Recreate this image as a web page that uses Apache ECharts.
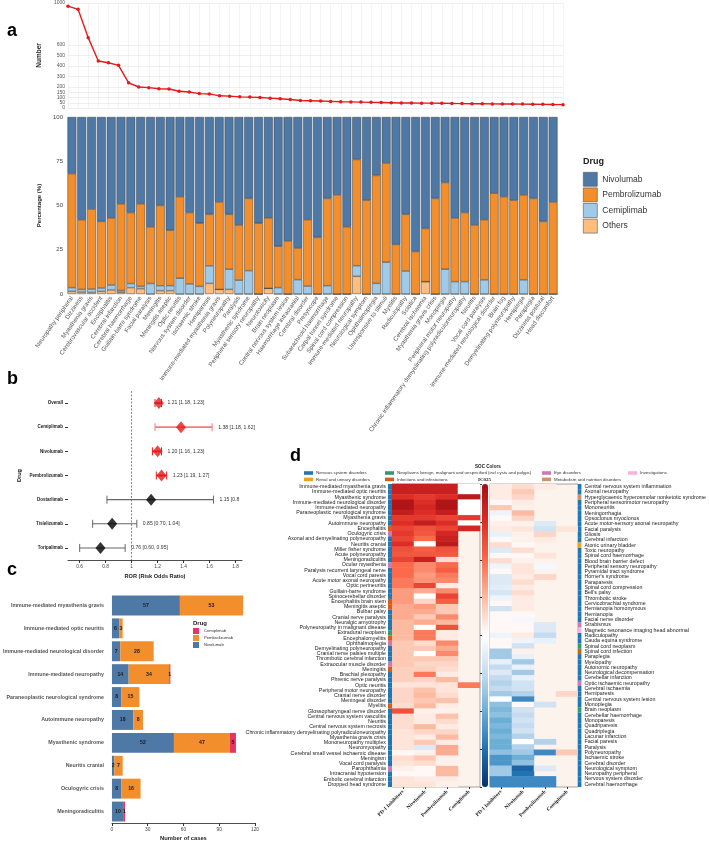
<!DOCTYPE html>
<html>
<head>
<meta charset="utf-8">
<script src="https://cdn.jsdelivr.net/npm/echarts@6/dist/echarts.min.js"></script>
<style>
html, body { margin: 0; padding: 0; background: #fff; }
#chart { width: 709px; height: 842px; }
</style>
</head>
<body>
<div id="chart"></div>
<script>
// ---- panel a: counts and drug share per AE ----
var aCats = ['Neuropathy peripheral', 'Dizziness', 'Myasthenia gravis', 'Cerebrovascular accident', 'Encephalitis', 'Cerebral infarction', 'Cerebral haemorrhage', 'Guillain-barre syndrome', 'Facial paralysis', 'Meningitis', 'Meningitis aseptic', 'Optic neuritis', 'Nervous system disorder', 'Ischaemic stroke', 'Hemiparesis', 'Immune-mediated myasthenia gravis', 'Polyneuropathy', 'Paralysis', 'Myasthenic syndrome', 'Peripheral sensory neuropathy', 'Neurotoxicity', 'Brain neoplasm', 'Central nervous system lesion', 'Haemorrhage intracranial', 'Cerebral disorder', 'Presyncope', 'Subarachnoid haemorrhage', 'Carpal tunnel syndrome', 'Spinal cord compression', 'Immune-mediated neuropathy', 'Neurological symptom', 'Ophthalmoplegia', 'Unresponsive to stimuli', 'Myelitis', 'Radiculopathy', 'Sciatica', 'Cerebral ischaemia', 'Myasthenia gravis crisis', 'Monoplegia', 'Peripheral motor neuropathy', 'Chronic inflammatory demyelinating polyradiculoneuropathy', 'Neuritis', 'Vocal cord paralysis', 'Immune-mediated neurological disorder', 'Brain fog', 'Demyelinating polyneuropathy', 'Hemiplegia', 'Paraplegia', 'Dizziness postural', 'Head discomfort'];
var aCounts = [970, 940, 670, 447, 431, 406, 240, 200, 194, 184, 181, 159, 153, 137, 134, 116, 113, 106, 104, 100, 94, 88, 81, 72, 69, 66, 63, 60, 58, 56, 54, 52, 50, 48, 47, 46, 46, 45, 44, 42, 41, 40, 39, 38, 38, 37, 36, 35, 33, 32];
var aTicks = [0, 50, 100, 150, 200, 300, 400, 500, 600, 1000];
var aOthers = [1.5, 1.1, 0.9, 1.5, 2.3, 1, 3.6, 3, 0, 1.9, 1.9, 0, 0, 0, 6, 2.6, 2.6, 0, 0, 0, 3.2, 0, 0, 0, 0, 0, 0, 0, 0, 10, 0, 0, 0, 0, 0, 0, 7, 0, 0, 0, 0, 0, 0, 0, 0, 0, 0, 0, 0, 0];
var aCemi = [2.1, 1.5, 1.9, 1.9, 2.8, 1, 2.3, 1.3, 5.9, 2.8, 2.8, 8.9, 5.7, 4.3, 9.9, 0, 11.4, 7.8, 13.2, 0, 0, 3.6, 0, 8.1, 4.5, 0, 4.7, 0, 0, 6, 0, 6, 18, 0, 13, 0, 0, 0, 14, 7, 7, 0, 8, 0, 0, 0, 8, 0, 0, 0];
var aPembro = [64.4, 39.4, 45.2, 37.6, 37.9, 49, 40.1, 46.7, 32.1, 45.3, 31.3, 46.1, 40.3, 35.7, 29.1, 49.4, 31, 31.2, 40.8, 40, 39.8, 23.4, 30, 17.9, 37.5, 32, 49.3, 56, 38, 60, 53, 61, 56, 28, 32, 24, 30, 54, 49, 36, 39, 39, 34, 57, 55, 53, 48, 54, 41, 52];
var aNivo = [32, 58, 52, 59, 57, 49, 54, 49, 62, 50, 64, 45, 54, 60, 55, 48, 55, 61, 46, 60, 57, 73, 70, 74, 58, 68, 46, 44, 62, 24, 47, 33, 26, 72, 55, 76, 63, 46, 37, 57, 54, 61, 58, 43, 45, 47, 44, 46, 59, 48];

// ---- panel b: ROR forest ----
var bDrugs = ['Overall', 'Cemiplimab', 'Nivolumab', 'Pembrolizumab', 'Dostarlimab', 'Tislelizumab', 'Toripalimab'];
var bRor = [1.21, 1.38, 1.20, 1.23, 1.15, 0.85, 0.76];
var bLow = [1.18, 1.18, 1.16, 1.19, 0.81, 0.70, 0.60];
var bHigh = [1.23, 1.62, 1.23, 1.27, 1.63, 1.04, 0.95];
var bText = ['1.21 [1.18, 1.23]', '1.38 [1.18, 1.62]', '1.20 [1.16, 1.23]', '1.23 [1.19, 1.27]', '1.15 [0.8', '0.85 [0.70, 1.04]', '0.76 [0.60, 0.95]'];
var bSig = [1, 1, 1, 1, 0, 0, 0];

// ---- panel c: immune-mediated cases ----
var cCats = ['Immune-mediated myasthenia gravis', 'Immune-mediated optic neuritis', 'Immune-mediated neurological disorder', 'Immune-mediated neuropathy', 'Paraneoplastic neurological syndrome', 'Autoimmune neuropathy', 'Myasthenic syndrome', 'Neuritis cranial', 'Oculogyric crisis', 'Meningoradiculitis'];
var cNivo = [57, 6, 7, 14, 8, 18, 52, 2, 8, 10];
var cPembro = [53, 3, 28, 34, 15, 8, 47, 7, 16, 0];
var cCemi = [0, 0, 0, 1, 0, 0, 5, 0, 0, 1];

// ---- panel d: IC025 heatmaps ----
var dCols = ['PD-1 Inhibitors', 'Nivolumab', 'Pembrolizumab', 'Cemiplimab'];
var socNames = ['Nervous system disorders', 'Renal and urinary disorders', 'Neoplasms benign, malignant and unspecified (incl cysts and polyps)', 'Infections and infestations', 'Eye disorders', 'Metabolism and nutrition disorders', 'Investigations'];
var socColors = ['#1f77b4', '#e6a324', '#2a9d72', '#d2601a', '#cc79b4', '#c8946a', '#f5b5dc'];

var dLeftRows = ['Immune-mediated myasthenia gravis', 'Immune-mediated optic neuritis', 'Myasthenic syndrome', 'Immune-mediated neurological disorder', 'Immune-mediated neuropathy', 'Paraneoplastic neurological syndrome', 'Myasthenia gravis', 'Autoimmune neuropathy', 'Encephalitis', 'Oculogyric crisis', 'Axonal and demyelinating polyneuropathy', 'Neuritis cranial', 'Miller fisher syndrome', 'Acute polyneuropathy', 'Meningoradiculitis', 'Ocular myasthenia', 'Paralysis recurrent laryngeal nerve', 'Vocal cord paresis', 'Acute motor axonal neuropathy', 'Optic perineuritis', 'Guillain-barre syndrome', 'Spinocerebellar disorder', 'Encephalitis brain stem', 'Meningitis aseptic', 'Bulbar palsy', 'Cranial nerve paralysis', 'Neuralgic amyotrophy', 'Polyneuropathy in malignant disease', 'Extradural neoplasm', 'Encephalomyelitis', 'Ophthalmoplegia', 'Demyelinating polyneuropathy', 'Cranial nerve palsies multiple', 'Thrombotic cerebral infarction', 'Extraocular muscle disorder', 'Meningitis', 'Brachial plexopathy', 'Phrenic nerve paralysis', 'Optic neuritis', 'Peripheral motor neuropathy', 'Cranial nerve disorder', 'Meningeal disorder', 'Myelitis', 'Glossopharyngeal nerve disorder', 'Central nervous system vasculitis', 'Neuritis', 'Central nervous system necrosis', 'Chronic inflammatory demyelinating polyradiculoneuropathy', 'Myasthenia gravis crisis', 'Mononeuropathy multiplex', 'Neuromyopathy', 'Cerebral small vessel ischaemic disease', 'Meningism', 'Vocal cord paralysis', 'Parophthalmia', 'Intracranial hypotension', 'Embolic cerebral infarction', 'Dropped head syndrome'];
var dLeftSoc = [0, 0, 0, 0, 0, 0, 0, 0, 3, 4, 0, 0, 0, 0, 0, 4, 0, 0, 0, 0, 0, 0, 3, 3, 0, 0, 0, 0, 2, 3, 4, 0, 0, 0, 4, 3, 0, 0, 0, 0, 0, 0, 3, 0, 0, 0, 0, 0, 0, 0, 0, 0, 0, 0, 4, 0, 0, 0];
var dLeftPD1 = [3.4, 3.4, 3.0, 3.8, 3.8, 3.5, 2.8, 3.0, 2.6, 2.8, 2.6, 3.0, 2.4, 2.3, 2.6, 2.0, 2.0, 2.0, 1.8, 1.8, 1.4, 1.4, 1.4, 1.2, 1.2, 1.2, 1.0, 1.0, 1.0, 1.0, 0.8, 0.8, 0.8, 0.8, 0.8, 0.7, 0.7, 0.7, 0.4, 0.6, 0.6, 0.6, 0.5, 2.4, 0.5, 0.5, 0.5, 0.4, 0.4, 0.4, 0.4, 0.1, 0.5, 0.4, 0.2, 0.1, 0.4, 0.4];
var dLeftNivo = [3.4, 3.4, 2.8, 3.0, 3.2, 3.0, 2.8, 3.5, 2.4, 2.3, 2.0, 0, 2.2, 2.3, 3.4, 1.6, 1.6, 1.4, 1.5, 2.6, 1.2, 0, 0.6, 1.4, 1.2, 0.8, 1.2, 0, 1.8, 1.8, 0.5, 0.8, 0, 0.8, 0.6, 0.7, 1.8, 0.6, 0.4, 0.9, 1.0, 0.8, 1.0, 0.2, 0.3, 0.3, 1.0, 0.6, 0.3, 0.8, -0.6, 0.2, 0.8, 0.5, 0.1, 0.1, 0.3, 0.4];
var dLeftPembro = [3.4, 3.4, 3.0, 3.8, 3.8, 3.5, 2.6, 3.0, 2.6, 3.2, 3.4, 3.6, 2.4, 2.3, 0.5, 2.0, 2.2, 1.8, 1.6, 0.3, 1.6, 2.6, 2.2, 0.8, 0.8, 1.6, 1.0, 2.4, 0.3, 0.3, 1.6, 1.2, 1.6, 0.8, 0.6, 0.5, 0.3, 1.0, 0.4, 0.4, 0.5, 0.9, 0.3, 0.2, 0.9, 0.5, 0.3, 0.6, 1.0, 0.3, 1.2, 1.2, 0.2, 0.2, 1.0, 1.0, 0.3, 0.2];
var dLeftCemi = [0, 0, 3.6, 0, 0, 0, 2.8, 0, 3.2, null, null, null, null, null, null, null, null, null, null, null, null, null, null, null, null, null, null, null, null, null, null, null, null, null, null, null, null, null, 1.8, null, null, null, null, null, null, null, null, null, null, null, null, null, null, null, null, null, null, null];

var dRightRows = ['Central nervous system inflammation', 'Axonal neuropathy', 'Hyperglycaemic hyperosmolar nonketotic syndrome', 'Peripheral sensorimotor neuropathy', 'Mononeuritis', 'Meningorrhagia', 'Opsoclonus myoclonus', 'Acute motor-sensory axonal neuropathy', 'Facial paralysis', 'Gliosis', 'Cerebral infarction', 'Atonic urinary bladder', 'Toxic neuropathy', 'Spinal cord haemorrhage', 'Blood brain barrier defect', 'Peripheral sensory neuropathy', 'Pyramidal tract syndrome', "Horner's syndrome", 'Paraparesis', 'Spinal cord compression', "Bell's palsy", 'Thrombotic stroke', 'Cervicobrachial syndrome', 'Hemianopia homonymous', 'Hemianopia', 'Facial nerve disorder', 'Strabismus', 'Magnetic resonance imaging head abnormal', 'Radiculopathy', 'Cauda equina syndrome', 'Spinal cord neoplasm', 'Spinal cord infection', 'Paraplegia', 'Myelopathy', 'Autonomic neuropathy', 'Neurological decompensation', 'Cerebellar infarction', 'Optic ischaemic neuropathy', 'Cerebral ischaemia', 'Hemiparesis', 'Central nervous system lesion', 'Monoplegia', 'Brain neoplasm', 'Cerebellar haemorrhage', 'Monoparesis', 'Quadriparesis', 'Quadriplegia', 'Lacunar infarction', 'Facial paresis', 'Paralysis', 'Polyneuropathy', 'Ischaemic stroke', 'Cerebral disorder', 'Neurological symptom', 'Neuropathy peripheral', 'Nervous system disorder', 'Cerebral haemorrhage'];
var dRightSoc = [0, 0, 5, 0, 0, 0, 0, 0, 0, 0, 0, 1, 0, 0, 0, 0, 0, 0, 0, 0, 0, 0, 0, 0, 0, 0, 4, 6, 0, 0, 2, 3, 0, 0, 0, 0, 0, 4, 0, 0, 0, 0, 2, 0, 0, 0, 0, 0, 0, 0, 0, 0, 0, 0, 0, 0, 0];
var dRightPD1 = [0.3, 0.3, 0.3, 0.1, 0.8, -0.3, 0.1, 0.2, 0.3, -0.4, 0.1, 0.5, -0.6, 0.1, 0.5, -0.3, 0.1, -0.6, -0.6, -0.5, -0.7, -0.3, 0.1, -0.8, 0.1, 0.1, 0.1, 0.1, -0.3, 0.1, 0.1, -1.4, -1.4, -0.4, -1.0, -0.6, -1.0, -1.2, -1.0, -1.4, 0, -1.6, -1.8, -1.6, -2.0, -1.8, -2.0, -1.8, -2.0, -2.0, -1.6, -2.4, -2.4, -1.4, -1.4, -2.6, -2.6];
var dRightNivo = [0.5, 0.8, 0.6, 0.3, 0.2, 1.0, 0.6, 0.2, 0.4, 0.2, 0.2, 0.1, 0.5, 0.1, 0.2, 0.4, 0.4, 0.3, 0.5, 0.3, 0.5, 0.3, 0.3, 0.3, 0.1, -0.2, 0.1, 0.1, 0.3, -0.3, -0.8, 0.2, -0.4, -1.4, -0.4, -1.4, -0.4, -0.8, -0.8, -1.2, -2.6, 0.1, -0.8, -1.0, -0.8, -1.0, -0.8, -1.2, 0, -1.2, -1.4, -2.0, -1.6, -3.2, -3.0, -2.6, -2.6];
var dRightPembro = [0.3, null, null, null, null, null, null, -0.6, -0.8, 0.6, 0.3, null, null, 0.4, null, -0.2, null, 0.6, null, null, null, null, null, null, null, null, -0.6, -0.6, -1.0, -0.4, null, null, null, null, null, null, null, null, null, null, null, -0.8, null, null, null, null, null, null, -1.2, null, -2.6, null, null, -0.6, null, -2.6, -2.6];
var dRightCemi = [null, null, null, null, null, null, null, null, 0.4, null, null, null, null, null, null, null, null, null, null, null, null, null, null, null, null, null, null, null, null, null, null, null, null, null, null, null, null, null, null, 0.6, null, null, null, null, null, null, null, null, null, null, 0.8, null, null, null, null, null, null];

var drugColor = { Nivolumab: '#4e79a7', Pembrolizumab: '#f28e2b', Cemiplimab: '#a0cbe8', Others: '#ffbe7d' };
var cCemiColor = '#e6365f';

function heatData(cols) {
	var out = [];
	cols.forEach(function (arr, c) {
		arr.forEach(function (v, r) {
			if (v !== null) out.push([c, r, v]);
		});
	});
	return out;
}

var chart = echarts.init(document.getElementById('chart'));
var series = [];

// a - horizontal guide lines only at the labelled ticks
series.push({
	type: 'line', xAxisIndex: 0, yAxisIndex: 0, data: [], silent: true,
	markLine: {
		silent: true, symbol: 'none', label: { show: false },
		lineStyle: { color: '#e4e4e4', type: 'solid', width: 0.6 },
		data: aTicks.map(function (t) { return { yAxis: t }; })
	}
});
series.push({
	name: 'Number', type: 'line', xAxisIndex: 0, yAxisIndex: 0, data: aCounts, z: 5,
	symbol: 'circle', symbolSize: 3.5,
	itemStyle: { color: '#e41a1c' }, lineStyle: { color: '#e41a1c', width: 1.4 }
});
[['Others', aOthers], ['Cemiplimab', aCemi], ['Pembrolizumab', aPembro], ['Nivolumab', aNivo]].forEach(function (s) {
	series.push({
		name: s[0], type: 'bar', stack: 'pct', xAxisIndex: 1, yAxisIndex: 1, data: s[1],
		barCategoryGap: '10%',
		itemStyle: { color: drugColor[s[0]], borderColor: '#3a3a3a', borderWidth: 0.5 }
	});
});

// b - error bars + value text
series.push({
	type: 'custom', xAxisIndex: 2, yAxisIndex: 2, silent: true,
	encode: { x: [0, 1], y: 2 },
	data: bDrugs.map(function (d, i) { return [bLow[i], bHigh[i], i]; }),
	renderItem: function (params, api) {
		var i = params.dataIndex;
		var lo = api.coord([api.value(0), i]);
		var hi = api.coord([api.value(1), i]);
		var col = bSig[i] ? (i === 1 ? '#f07c7c' : '#e41a1c') : '#666';
		var w = bSig[i] ? 1.8 : 1.1;
		return {
			type: 'group', children: [
				{ type: 'line', shape: { x1: lo[0], y1: lo[1], x2: hi[0], y2: hi[1] }, style: { stroke: col, lineWidth: w } },
				{ type: 'line', shape: { x1: lo[0], y1: lo[1] - 4, x2: lo[0], y2: lo[1] + 4 }, style: { stroke: col, lineWidth: 1 } },
				{ type: 'line', shape: { x1: hi[0], y1: hi[1] - 4, x2: hi[0], y2: hi[1] + 4 }, style: { stroke: col, lineWidth: 1 } },
				{ type: 'text', style: { text: bText[i], x: hi[0] + 6, y: hi[1], verticalAlign: 'middle', fontSize: 5.1, fill: '#333', fontFamily: 'Liberation Sans' } }
			]
		};
	}
});
series.push({
	type: 'scatter', xAxisIndex: 2, yAxisIndex: 2, symbol: 'diamond', symbolSize: [10, 12], z: 4,
	data: bRor.map(function (v, i) { return { value: [v, i], itemStyle: { color: bSig[i] ? '#e41a1c' : '#000' } }; }),
	markLine: {
		silent: true, symbol: 'none', label: { show: false },
		lineStyle: { color: '#e41a1c', type: [2, 1.5], width: 0.7 },
		data: [{ xAxis: 1 }]
	}
});

// c - stacked horizontal bars
[['Nivolumab', cNivo, drugColor.Nivolumab], ['Pembrolizumab', cPembro, drugColor.Pembrolizumab], ['Cemiplimab', cCemi, cCemiColor]].forEach(function (s) {
	series.push({
		name: s[0], type: 'bar', stack: 'cases', xAxisIndex: 3, yAxisIndex: 3, data: s[1],
		barCategoryGap: '13%', itemStyle: { color: s[2] },
		label: {
			show: true, position: 'inside', fontSize: 5.2, fontWeight: 'bold', color: '#1a1a1a',
			formatter: function (p) { return p.value ? p.value : ''; }
		}
	});
});

// d - left heatmap and SOC strip
var heatIdx = [];
heatIdx.push(series.length);
series.push({
	type: 'heatmap', xAxisIndex: 4, yAxisIndex: 4, silent: true,
	data: heatData([dLeftPD1, dLeftNivo, dLeftPembro, dLeftCemi])
});
socNames.forEach(function (name, k) {
	series.push({
		name: name, type: 'bar', xAxisIndex: 5, yAxisIndex: 5, barWidth: '100%', barGap: '-100%', silent: true,
		itemStyle: { color: socColors[k] },
		data: dLeftSoc.map(function (s) { return s === k ? 1 : '-'; })
	});
});
heatIdx.push(series.length);
series.push({
	type: 'heatmap', xAxisIndex: 6, yAxisIndex: 6, silent: true,
	data: heatData([dRightPD1, dRightNivo, dRightPembro, dRightCemi])
});
socNames.forEach(function (name, k) {
	series.push({
		name: name, type: 'bar', xAxisIndex: 7, yAxisIndex: 7, barWidth: '100%', barGap: '-100%', silent: true,
		itemStyle: { color: socColors[k] },
		data: dRightSoc.map(function (s) { return s === k ? 1 : '-'; })
	});
});
series.push({ type: 'scatter', xAxisIndex: 8, yAxisIndex: 8, data: [] });

var heatGrid = { show: true, backgroundColor: '#fdf3ed', borderColor: '#8a8a8a', borderWidth: 0.8 };
var dColAxis = {
	type: 'category', data: dCols,
	axisLine: { show: false },
	axisTick: { show: true, alignWithLabel: true, length: 2, lineStyle: { color: '#333' } },
	axisLabel: { interval: 0, rotate: 45, margin: 4, fontSize: 5.2, fontWeight: 'bold', fontFamily: 'Liberation Serif', color: '#222' }
};
var hiddenCat = function (rows, grid) {
	return { type: 'category', gridIndex: grid, data: rows, inverse: true, axisLabel: { show: false }, axisTick: { show: false }, axisLine: { show: false } };
};
var hiddenVal = function (grid) {
	return { type: 'value', gridIndex: grid, min: 0, max: 1, show: false };
};
var socLegend = function (left, names) {
	return {
		orient: 'vertical', left: left, top: 471, padding: 0, itemGap: 2.4, itemWidth: 9, itemHeight: 3.6, icon: 'rect',
		selectedMode: false, textStyle: { fontSize: 4.4, color: '#333', padding: [0, 0, 0, -2] }, data: names
	};
};

var option = {
	animation: false,
	backgroundColor: '#fff',
	textStyle: { fontFamily: 'Liberation Sans' },
	title: [
		{ text: 'a', left: 7, top: 22, padding: 0, textStyle: { fontSize: 18, fontWeight: 'bold', color: '#000' } },
		{ text: 'b', left: 7, top: 370, padding: 0, textStyle: { fontSize: 18, fontWeight: 'bold', color: '#000' } },
		{ text: 'c', left: 7, top: 561, padding: 0, textStyle: { fontSize: 18, fontWeight: 'bold', color: '#000' } },
		{ text: 'd', left: 290, top: 447, padding: 0, textStyle: { fontSize: 18, fontWeight: 'bold', color: '#000' } },
		{ text: 'Drug', left: 583, top: 157, padding: 0, textStyle: { fontSize: 9, fontWeight: 'bold', color: '#222' } },
		{ text: 'Drug', left: 193, top: 620, padding: 0, textStyle: { fontSize: 6, fontWeight: 'bold', color: '#222' } },
		{ text: 'SOC Colors', left: 475, top: 464, padding: 0, textStyle: { fontSize: 4.6, fontWeight: 'bold', color: '#222' } },
		{ text: 'IC025', left: 478, top: 477, padding: 0, textStyle: { fontSize: 5, fontWeight: 'bold', fontFamily: 'Liberation Serif', color: '#222' } }
	],
	legend: [
		{
			orient: 'vertical', left: 583, top: 172, padding: 0, itemGap: 1, itemWidth: 14, itemHeight: 14, icon: 'rect',
			selectedMode: false, textStyle: { fontSize: 8.5, color: '#333' },
			data: ['Nivolumab', 'Pembrolizumab', 'Cemiplimab', 'Others'].map(function (n) {
				return { name: n, itemStyle: { color: drugColor[n], borderColor: '#555', borderWidth: 0.6 } };
			})
		},
		{
			orient: 'vertical', left: 193, top: 628, padding: 0, itemGap: 1, itemWidth: 6, itemHeight: 6, icon: 'rect',
			selectedMode: false, textStyle: { fontSize: 4.2, color: '#333' },
			data: [
				{ name: 'Cemiplimab', itemStyle: { color: cCemiColor, borderWidth: 0 } },
				{ name: 'Pembrolizumab', itemStyle: { color: drugColor.Pembrolizumab, borderWidth: 0 } },
				{ name: 'Nivolumab', itemStyle: { color: drugColor.Nivolumab, borderWidth: 0 } }
			]
		},
		socLegend(304, [socNames[0], socNames[1]]),
		socLegend(385, [socNames[2], socNames[3]]),
		socLegend(542, [socNames[4], socNames[5]]),
		socLegend(628, [socNames[6]])
	],
	grid: [
		{ left: 68, top: 3, width: 495, height: 105 },
		{ left: 67, top: 117, width: 491, height: 177 },
		{ left: 68, top: 391, width: 174, height: 169 },
		{ left: 110, top: 594, width: 145, height: 230 },
		echarts.util.extend({ left: 392, top: 484, width: 88, height: 303 }, heatGrid),
		{ left: 388, top: 484, width: 4, height: 303 },
		echarts.util.extend({ left: 490, top: 484, width: 88, height: 303 }, heatGrid),
		{ left: 578, top: 484, width: 4, height: 303 },
		{ left: 482, top: 484, width: 6, height: 303 }
	],
	xAxis: [
		{
			type: 'category', gridIndex: 0, data: aCats, boundaryGap: false,
			axisLabel: { show: false }, axisTick: { show: false }, axisLine: { show: false },
			splitLine: { show: true, interval: 0, lineStyle: { color: '#ebebeb', width: 0.6 } }
		},
		{
			type: 'category', gridIndex: 1, data: aCats,
			axisLabel: { interval: 0, rotate: 55, margin: 3, fontSize: 6.2, color: '#555' },
			axisTick: { show: false }, axisLine: { show: false }
		},
		{
			type: 'value', gridIndex: 2, min: 0.51, max: 1.85, splitNumber: 7,
			axisLine: { show: true, lineStyle: { color: '#222', width: 0.8 } },
			axisTick: { show: true, length: 3, lineStyle: { color: '#333' } },
			axisLabel: { fontSize: 4.8, color: '#444', margin: 4, showMinLabel: false, showMaxLabel: false },
			splitLine: { show: false },
			name: 'ROR (Risk Odds Ratio)', nameLocation: 'middle', nameGap: 13,
			nameTextStyle: { fontSize: 5.6, fontWeight: 'bold', color: '#222' }
		},
		{
			type: 'value', gridIndex: 3, min: 0, max: 120, interval: 30,
			axisLine: { show: true, lineStyle: { color: '#222', width: 0.8 } },
			axisTick: { show: true, length: 3, lineStyle: { color: '#333' } },
			axisLabel: { fontSize: 4.8, color: '#444', margin: 4 },
			splitLine: { show: false },
			name: 'Number of cases', nameLocation: 'middle', nameGap: 12,
			nameTextStyle: { fontSize: 5.8, fontWeight: 'bold', color: '#222' }
		},
		echarts.util.extend({ gridIndex: 4 }, dColAxis),
		hiddenVal(5),
		echarts.util.extend({ gridIndex: 6 }, dColAxis),
		hiddenVal(7),
		hiddenVal(8)
	],
	yAxis: [
		{
			type: 'value', gridIndex: 0, min: 0, max: 1000, interval: 50,
			axisLabel: {
				fontSize: 5, color: '#555', margin: 3,
				formatter: function (v) { return aTicks.indexOf(v) >= 0 ? v : ''; }
			},
			axisTick: { show: false }, axisLine: { show: false }, splitLine: { show: false },
			name: 'Number', nameLocation: 'middle', nameGap: 17,
			nameTextStyle: { fontSize: 6.5, fontWeight: 'bold', color: '#222' }
		},
		{
			type: 'value', gridIndex: 1, min: 0, max: 100, interval: 25,
			axisLabel: { fontSize: 6, color: '#444', margin: 4 },
			axisTick: { show: false }, axisLine: { show: false }, splitLine: { show: false },
			name: 'Percentage (%)', nameLocation: 'middle', nameGap: 16,
			nameTextStyle: { fontSize: 6, fontWeight: 'bold', color: '#222' }
		},
		{
			type: 'category', gridIndex: 2, data: bDrugs, inverse: true,
			axisLine: { show: false },
			axisTick: { show: true, alignWithLabel: true, length: 3, lineStyle: { color: '#333' } },
			axisLabel: { fontSize: 4.5, fontWeight: 'bold', color: '#222', margin: 5 },
			name: 'Drug', nameLocation: 'middle', nameGap: 46,
			nameTextStyle: { fontSize: 5.6, fontWeight: 'bold', color: '#222' }
		},
		{
			type: 'category', gridIndex: 3, data: cCats, inverse: true,
			axisLine: { show: false }, axisTick: { show: false },
			axisLabel: { fontSize: 5.3, fontWeight: 'bold', color: '#555', margin: 8 }
		},
		hiddenCat(dLeftRows, 4),
		{
			type: 'category', gridIndex: 5, data: dLeftRows, inverse: true,
			axisLine: { show: false }, axisTick: { show: false },
			axisLabel: { interval: 0, fontSize: 5.3, color: '#222', margin: 2 }
		},
		hiddenCat(dRightRows, 6),
		{
			type: 'category', gridIndex: 7, data: dRightRows, inverse: true, position: 'right',
			axisLine: { show: false }, axisTick: { show: false },
			axisLabel: { interval: 0, fontSize: 5.3, color: '#222', margin: 3 }
		},
		{
			type: 'value', gridIndex: 8, min: -4, max: 4, interval: 1, position: 'right',
			axisLine: { show: false }, splitLine: { show: false }, axisLabel: { show: false },
			axisTick: { show: true, inside: true, length: 2, lineStyle: { color: '#000', width: 0.8 } }
		}
	],
	visualMap: {
		type: 'continuous', min: -4, max: 4, seriesIndex: heatIdx,
		calculable: false, hoverLink: false, padding: 0,
		left: 482, top: 484, itemWidth: 6, itemHeight: 303, text: null,
		inRange: { color: ['#08306b', '#2171b5', '#6baed6', '#c6dbef', '#ffffff', '#fcbba1', '#fb6a4a', '#de2d26', '#a50f15'] }
	},
	series: series
};

chart.setOption(option);
</script>
</body>
</html>
